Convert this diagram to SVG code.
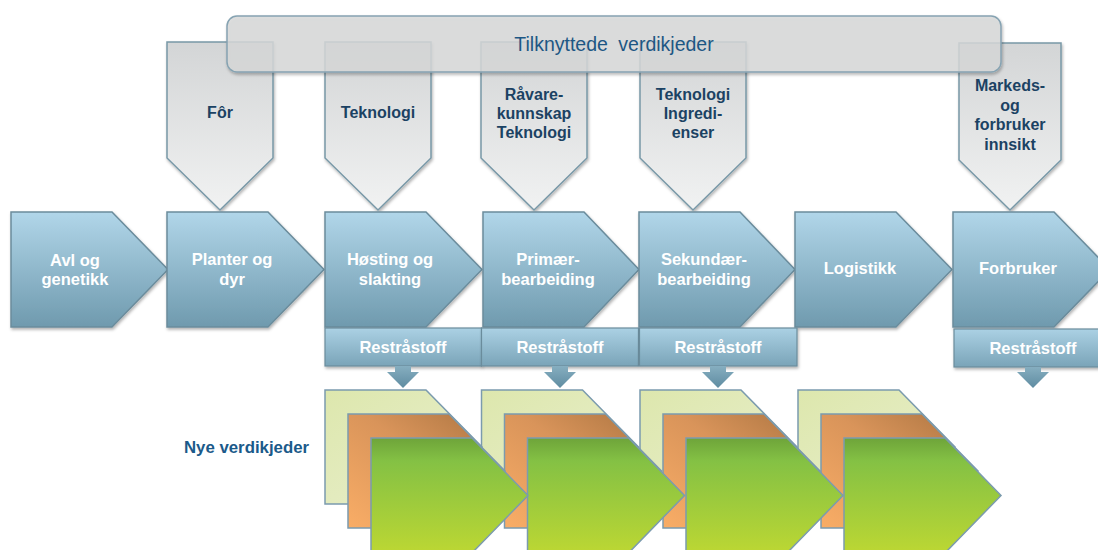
<svg xmlns="http://www.w3.org/2000/svg" width="1098" height="550" viewBox="0 0 1098 550">
<defs>
<linearGradient id="gBlue" x1="0" y1="0" x2="0" y2="1"><stop offset="0" stop-color="#b1d6e9"/><stop offset="1" stop-color="#6f9aae"/></linearGradient>
<linearGradient id="gBox" x1="0" y1="0" x2="0" y2="1"><stop offset="0" stop-color="#abd1e4"/><stop offset="1" stop-color="#7aa4b8"/></linearGradient>
<linearGradient id="gGray" x1="0" y1="0" x2="0" y2="1"><stop offset="0" stop-color="#d3d5d6"/><stop offset="1" stop-color="#f1f2f2"/></linearGradient>
<linearGradient id="gLight" x1="0" y1="0" x2="1" y2="1"><stop offset="0" stop-color="#dde7ad"/><stop offset="1" stop-color="#e9efcf"/></linearGradient>
<linearGradient id="gOrange" x1="0" y1="1" x2="1" y2="0"><stop offset="0" stop-color="#f9ad66"/><stop offset="0.55" stop-color="#d9945a"/><stop offset="1" stop-color="#a8723f"/></linearGradient>
<linearGradient id="gGreen" x1="0" y1="0" x2="0" y2="1"><stop offset="0" stop-color="#6ea43a"/><stop offset="0.2" stop-color="#84c144"/><stop offset="1" stop-color="#bcd733"/></linearGradient>
<linearGradient id="gArrow" x1="0" y1="0" x2="0" y2="1"><stop offset="0" stop-color="#86aec0"/><stop offset="1" stop-color="#5f8ca1"/></linearGradient>
<filter id="sh" x="-10%" y="-10%" width="130%" height="130%"><feDropShadow dx="1" dy="2" stdDeviation="1.5" flood-color="#000" flood-opacity="0.3"/></filter>
</defs>
<style>
.main{fill:url(#gBlue);stroke:#6b8c9c;stroke-width:1.5;filter:url(#sh)}
.box{fill:url(#gBox);stroke:#6b8c9c;stroke-width:1.2;filter:url(#sh)}
.gray{fill:url(#gGray);stroke:#7898a7;stroke-width:1.5;filter:url(#sh)}
.light{fill:url(#gLight);stroke:#7b9bae;stroke-width:1.5}
.orange{fill:url(#gOrange);stroke:#7b9bae;stroke-width:1.5}
.green{fill:url(#gGreen);stroke:#7b9bae;stroke-width:1.5}
.arr{fill:url(#gArrow)}
.wt{font-family:"Liberation Sans",Arial,sans-serif;font-weight:bold;font-size:16.5px;fill:#ffffff;text-anchor:middle}
.gt{font-family:"Liberation Sans",Arial,sans-serif;font-weight:bold;font-size:16px;fill:#1b4263;text-anchor:middle}
.bt{font-family:"Liberation Sans",Arial,sans-serif;font-size:19.5px;fill:#1d5784;text-anchor:middle;word-spacing:5px}
.lt{font-family:"Liberation Sans",Arial,sans-serif;font-weight:bold;font-size:16.8px;fill:#1b5a8a;text-anchor:start}
</style>

<!-- input (gray) nodes -->
<g id="for"><path class="gray" d="M167,42 H273 V158 L220,210 L167,158 Z"/><text class="gt" x="220" y="118">Fôr</text></g>
<g id="teknologi"><path class="gray" d="M325,42 H431 V158 L378,210 L325,158 Z"/><text class="gt" x="378" y="118">Teknologi</text></g>
<g id="ravarekunnskap"><path class="gray" d="M481,42 H587 V158 L534,210 L481,158 Z"/><text class="gt" x="534" y="100">Råvare-</text><text class="gt" x="534" y="119">kunnskap</text><text class="gt" x="534" y="138">Teknologi</text></g>
<g id="ingredienser"><path class="gray" d="M640,42 H746 V158 L693,210 L640,158 Z"/><text class="gt" x="693" y="100">Teknologi</text><text class="gt" x="693" y="119">Ingredi-</text><text class="gt" x="693" y="138">enser</text></g>
<g id="markedsinnsikt"><path class="gray" d="M959,43 H1061 V160 L1010,210 L959,160 Z"/><text class="gt" x="1010" y="91">Markeds-</text><text class="gt" x="1010" y="110.5">og</text><text class="gt" x="1010" y="130">forbruker</text><text class="gt" x="1010" y="149.5">innsikt</text></g>

<!-- banner -->
<g id="tilknyttede">
<rect x="227" y="16" width="774" height="56" rx="10" ry="10" fill="#d9dada" fill-opacity="0.82" stroke="#86a3b2" stroke-width="1.5" filter="url(#sh)"/>
<text class="bt" x="614" y="51">Tilknyttede verdikjeder</text>
</g>

<!-- main chain -->
<g id="avl"><path class="main" d="M11,212 H112 L168,269.5 L112,327 H11 Z"/><text class="wt" x="75" y="266">Avl og</text><text class="wt" x="75" y="285">genetikk</text></g>
<g id="planter"><path class="main" d="M167,212 H268 L324,269.5 L268,327 H167 Z"/><text class="wt" x="232" y="265">Planter og</text><text class="wt" x="232" y="285">dyr</text></g>
<g id="hosting"><path class="main" d="M325,212 H426 L482,269.5 L426,327 H325 Z"/><text class="wt" x="390" y="265">Høsting og</text><text class="wt" x="390" y="285">slakting</text></g>
<g id="primar"><path class="main" d="M483,212 H584 L639,269.5 L584,327 H483 Z"/><text class="wt" x="548" y="265">Primær-</text><text class="wt" x="548" y="285">bearbeiding</text></g>
<g id="sekundar"><path class="main" d="M639,212 H740 L795,269.5 L740,327 H639 Z"/><text class="wt" x="704" y="265">Sekundær-</text><text class="wt" x="704" y="285">bearbeiding</text></g>
<g id="logistikk"><path class="main" d="M795,212 H896 L952,269.5 L896,327 H795 Z"/><text class="wt" x="860" y="274">Logistikk</text></g>
<g id="forbruker"><path class="main" d="M953,212 H1054 L1110,269.5 L1054,327 H953 Z"/><text class="wt" x="1018" y="274">Forbruker</text></g>

<!-- restråstoff boxes -->
<g id="rest1"><rect class="box" x="325" y="328" width="156.5" height="38"/><text class="wt" x="403" y="353">Restråstoff</text></g>
<g id="rest2"><rect class="box" x="481.5" y="328" width="157" height="38"/><text class="wt" x="560" y="353">Restråstoff</text></g>
<g id="rest3"><rect class="box" x="639.5" y="328" width="157.5" height="38"/><text class="wt" x="718" y="353">Restråstoff</text></g>
<g id="rest4"><rect class="box" x="954" y="329" width="160" height="38"/><text class="wt" x="1033" y="354">Restråstoff</text></g>

<!-- connectors -->
<g id="connectors">
<path class="arr" d="M395,366 H411 V372 H419 L403,388 L387,372 H395 Z"/>
<path class="arr" d="M552,366 H568 V372 H576 L560,388 L544,372 H552 Z"/>
<path class="arr" d="M710,366 H726 V372 H734 L718,388 L702,372 H710 Z"/>
<path class="arr" d="M1025,367 H1041 V372 H1049 L1033,388 L1017,372 H1025 Z"/>
</g>

<!-- new value chains (stacks) -->
<g id="ny4">
<path class="light" d="M798,390 H899 L955,447 L899,504 H798 Z"/>
<path class="orange" d="M821,414 H922 L978,471 L922,528 H821 Z"/>
<path class="green" d="M844,438 H945 L1001,495.5 L945,553 H844 Z"/>
</g>
<g id="ny3">
<path class="light" d="M640,390 H741 L797,447 L741,504 H640 Z"/>
<path class="orange" d="M663,414 H764 L820,471 L764,528 H663 Z"/>
<path class="green" d="M686,438 H787 L843,495.5 L787,553 H686 Z"/>
</g>
<g id="ny2">
<path class="light" d="M481.5,390 H582.5 L638.5,447 L582.5,504 H481.5 Z"/>
<path class="orange" d="M504.5,414 H605.5 L661.5,471 L605.5,528 H504.5 Z"/>
<path class="green" d="M527.5,438 H628.5 L684.5,495.5 L628.5,553 H527.5 Z"/>
</g>
<g id="ny1">
<path class="light" d="M325,390 H426 L482,447 L426,504 H325 Z"/>
<path class="orange" d="M348,414 H449 L505,471 L449,528 H348 Z"/>
<path class="green" d="M371,438 H472 L528,495.5 L472,553 H371 Z"/>
</g>
<g id="nye-label"><text class="lt" x="184" y="453">Nye verdikjeder</text></g>
</svg>
